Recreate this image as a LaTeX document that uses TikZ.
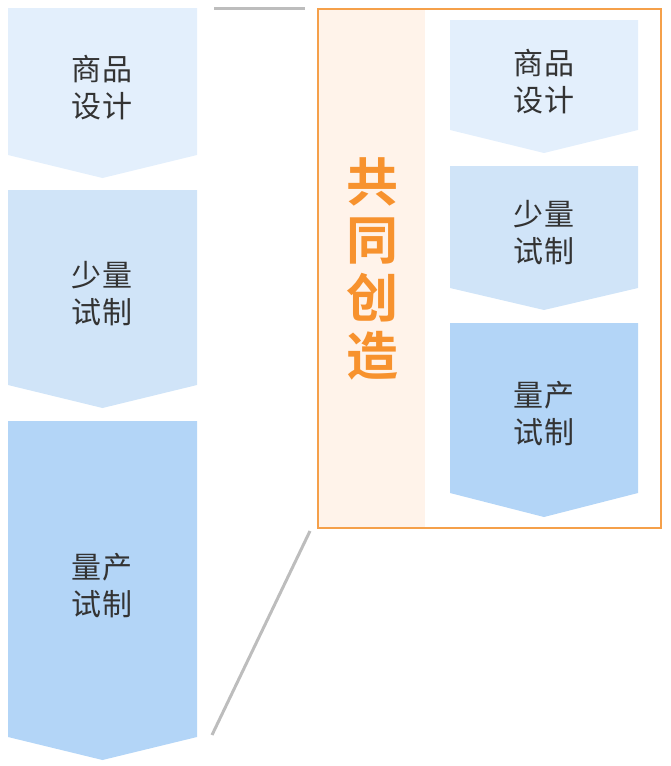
\documentclass[tikz,border=0pt]{standalone}
\usepackage{fontspec}
\newfontfamily\cjk[LetterSpace=6]{Noto Sans CJK SC}
\newfontfamily\cjkb{Noto Sans CJK SC Bold}
\definecolor{c1}{HTML}{E3EFFC}
\definecolor{c2}{HTML}{D0E4F8}
\definecolor{c3}{HTML}{B3D5F7}
\definecolor{org}{HTML}{F5A04A}
\definecolor{orgt}{HTML}{F7922E}
\definecolor{pale}{HTML}{FFF3EA}
\definecolor{gl}{HTML}{BDBDBD}
\definecolor{tx}{HTML}{333333}
\tikzset{lab/.style={text=tx,font=\cjk\fontsize{30}{37}\selectfont,align=center,inner sep=0}}
\newcommand{\chev}[6]{% x1 x2 ytop yrect ytip color
  \fill[#6] (#1,#3) -- (#2,#3) -- (#2,#4) -- ({(#1+#2)/2},#5) -- (#1,#4) -- cycle;}
\begin{document}
\begin{tikzpicture}[x=1pt,y=-1pt]
\useasboundingbox (0,0) rectangle (670,766);
\chev{8}{197}{8}{155}{178}{c1}
\chev{8}{197}{190}{385}{408}{c2}
\chev{8}{197}{421}{737}{760}{c3}
\node[lab] (l1) at (102,88) {商品\\设计};
\node[lab] (l2) at (102,294) {少量\\试制};
\node[lab] (l3) at (102,586) {量产\\试制};
\coordinate (g1) at (214,8); \coordinate (g2) at (305,8);
\coordinate (g3) at (310,531); \coordinate (g4) at (212,735);
\draw[gl,line width=3pt] (g1) -- (g2);
\draw[gl,line width=3pt] (g3) -- (g4);
\fill[pale] (318,9) rectangle (425,528);
\draw[org,line width=1.5pt] (318,9) rectangle (661,528);
\node[text=orgt,font=\cjkb\fontsize{52}{58}\selectfont,align=center,inner sep=0] (t) at (372,269) {共\\同\\创\\造};
\chev{450}{638}{20}{130}{153}{c1}
\chev{450}{638}{166}{288}{310}{c2}
\chev{450}{638}{323}{493}{517}{c3}
\node[lab] (r1) at (544,82) {商品\\设计};
\node[lab] (r2) at (544,233) {少量\\试制};
\node[lab] (r3) at (544,414) {量产\\试制};
\end{tikzpicture}
\end{document}
